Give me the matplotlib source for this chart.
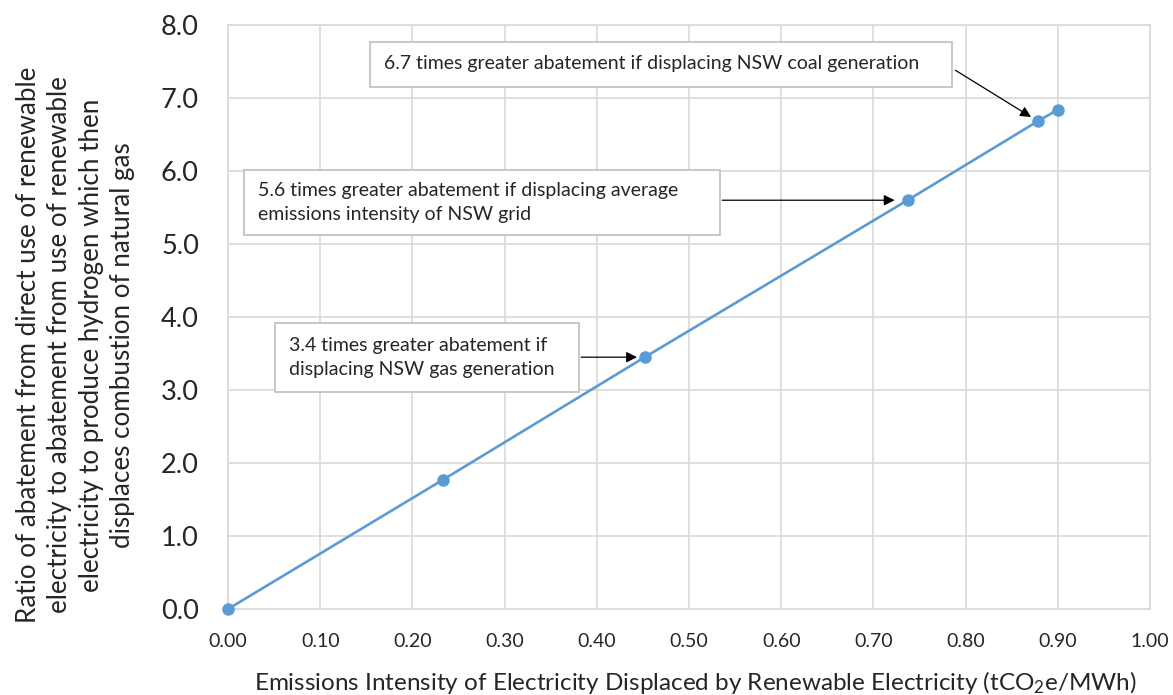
import matplotlib
matplotlib.use("Agg")
import matplotlib.pyplot as plt
from matplotlib.patches import Rectangle

plt.rcParams['font.family'] = ['Lato', 'DejaVu Sans']
plt.rcParams['mathtext.fontset'] = 'custom'
plt.rcParams['mathtext.rm'] = 'Lato'
plt.rcParams['mathtext.it'] = 'Lato:italic'

# emissions intensity displaced (tCO2e/MWh) vs abatement ratio
intensity = [0.0, 0.233, 0.452, 0.737, 0.878, 0.900]
ratio = [0.0, 1.77, 3.45, 5.60, 6.68, 6.84]

x_ticks = [0.0, 0.1, 0.2, 0.3, 0.4, 0.5, 0.6, 0.7, 0.8, 0.9, 1.0]
y_ticks = [0, 1, 2, 3, 4, 5, 6, 7, 8]

notes = [
    "6.7 times greater abatement if displacing NSW coal generation",
    "5.6 times greater abatement if displacing average\nemissions intensity of NSW grid",
    "3.4 times greater abatement if\ndisplacing NSW gas generation",
]
# box (x0, y0, x1, y1), text anchor, arrow start, arrow tip
note_boxes = [(0.154, 7.15, 0.785, 7.77), (0.0174, 5.12, 0.534, 6.01), (0.051, 2.97, 0.381, 3.92)]
note_text_xy = [(0.169, 7.47), (0.0325, 5.57), (0.066, 3.45)]
arrow_from = [(0.789, 7.38), (0.536, 5.60), (0.383, 3.45)]
arrow_to = [(0.871, 6.74), (0.723, 5.60), (0.4436, 3.45)]

fig = plt.figure(figsize=(11.73, 6.95), dpi=100)
ax = fig.add_axes([0.1944, 0.1237, 0.786, 0.8403])

ax.plot(intensity, ratio, color='#5B9BD5', lw=1.9, marker='o', ms=8, zorder=3, clip_on=False)

ax.set_xlim(0, 1.0)
ax.set_ylim(0, 8)
ax.set_xticks(x_ticks)
ax.set_xticklabels(['%.2f' % v for v in x_ticks], fontsize=14)
ax.set_yticks(y_ticks)
ax.set_yticklabels(['%.1f' % v for v in y_ticks], fontsize=19.5)
ax.tick_params(length=0, colors='#262626')
ax.tick_params(axis='x', pad=17)
ax.tick_params(axis='y', pad=21)
ax.grid(True, color='#D9D9D9', lw=1.2)
ax.set_axisbelow(True)
for s in ax.spines.values():
    s.set_color('#D9D9D9')
    s.set_linewidth(1.2)

ax.set_xlabel('Emissions Intensity of Electricity Displaced by Renewable Electricity (tCO$_2$e/MWh)',
              fontsize=17.5, color='#262626', va='top')
ax.xaxis.set_label_coords(0.507, -0.102)
ax.set_ylabel('Ratio of abatement from direct use of renewable\n'
              'electricity to abatement from use of renewable\n'
              'electricity to produce hydrogen which then\n'
              'displaces combustion of natural gas',
              fontsize=18.7, color='#262626', linespacing=1.32)
ax.yaxis.set_label_coords(-0.101, 0.452)

for txt, box, txy, a0, a1 in zip(notes, note_boxes, note_text_xy, arrow_from, arrow_to):
    ax.add_patch(Rectangle((box[0], box[1]), box[2] - box[0], box[3] - box[1],
                           facecolor='white', edgecolor='#BFBFBF', lw=1.2, zorder=4))
    ax.text(txy[0], txy[1], txt, fontsize=14, color='#262626', va='center', ha='left',
            linespacing=1.5, zorder=5)
    ax.annotate('', xy=a1, xytext=a0,
                arrowprops=dict(arrowstyle='-|>', color='black', lw=0.9,
                                mutation_scale=16, shrinkA=0, shrinkB=0), zorder=5)

fig.savefig('out.png', dpi=100)
